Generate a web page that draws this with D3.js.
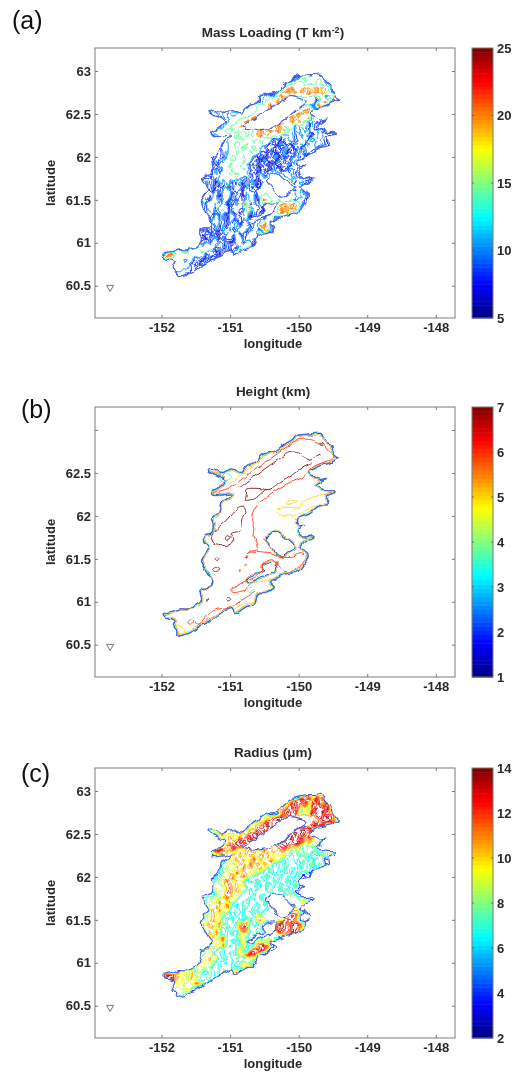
<!DOCTYPE html>
<html lang="en">

<head>
    <meta charset="UTF-8" />
    <title>Plume retrieval maps</title>
    <script src="https://d3js.org/d3.v7.min.js"></script>
    <style>
        body {
            margin: 0;
            background: #fff;
        }

        svg {
            display: block;
            filter: blur(0.35px);
        }

        text {
            font-family: "Liberation Sans", Arial, sans-serif;
            fill: #2a2a2a;
        }

        .tick-label {
            font-size: 13px;
            font-weight: bold;
        }

        .axis-label {
            font-size: 13px;
            font-weight: bold;
        }

        .panel-title {
            font-size: 13.5px;
            font-weight: bold;
        }

        .panel-letter {
            font-size: 25px;
            fill: #111;
        }
    </style>
</head>

<body>
    <svg width="513" height="1072">
        <defs>
            <!-- roughens the drawn contours, the map is a resampled retrieval -->
            <filter id="rough" filterUnits="userSpaceOnUse" x="0" y="0" width="513" height="1072">
                <feTurbulence type="fractalNoise" baseFrequency="0.16" numOctaves="1" seed="4" result="n" />
                <feDisplacementMap in="SourceGraphic" in2="n" scale="7" xChannelSelector="R" yChannelSelector="G" />
                <feGaussianBlur stdDeviation="0.42" />
            </filter>
            <filter id="roughSoft" filterUnits="userSpaceOnUse" x="0" y="0" width="513" height="1072">
                <feTurbulence type="fractalNoise" baseFrequency="0.14" numOctaves="1" seed="9" result="n" />
                <feDisplacementMap in="SourceGraphic" in2="n" scale="4.5" xChannelSelector="R" yChannelSelector="G" />
                <feGaussianBlur stdDeviation="0.3" />
            </filter>
        </defs>
    </svg>
    <script>
        // axes
        const lonTicks = [-152, -151, -150, -149, -148];
        const latTicks = [60.5, 61, 61.5, 62, 62.5, 63];
        const latLabelsHeight = [60.5, 61, 61.5, 62, 62.5];
        const massTicks = [5, 10, 15, 20, 25];
        const heightTicks = [1, 2, 3, 4, 5, 6, 7];
        const radiusTicks = [2, 4, 6, 8, 10, 12, 14];
        const stationLonLat = [-152.75, 60.48];

        // plume edge, lon/lat
        const plumeEdge = [[-150.06, 62.93], [-149.94, 62.95], [-149.79, 62.96], [-149.67, 62.96], [-149.64, 62.91], [-149.59, 62.86], [-149.52, 62.83], [-149.50, 62.76], [-149.47, 62.70], [-149.42, 62.67], [-149.50, 62.63], [-149.59, 62.60], [-149.69, 62.58], [-149.76, 62.55], [-149.84, 62.51], [-149.69, 62.43], [-149.59, 62.44], [-149.67, 62.39], [-149.74, 62.35], [-149.59, 62.30], [-149.47, 62.29], [-149.47, 62.27], [-149.59, 62.23], [-149.55, 62.14], [-149.69, 62.11], [-149.84, 62.02], [-150.01, 61.96], [-149.98, 61.89], [-149.91, 61.89], [-150.01, 61.83], [-149.94, 61.76], [-149.79, 61.77], [-149.76, 61.74], [-149.89, 61.70], [-149.96, 61.63], [-149.86, 61.56], [-149.89, 61.46], [-150.01, 61.35], [-150.18, 61.32], [-150.32, 61.27], [-150.42, 61.23], [-150.35, 61.17], [-150.45, 61.11], [-150.59, 61.09], [-150.64, 60.97], [-150.76, 60.94], [-150.93, 60.86], [-151.00, 60.92], [-151.10, 60.88], [-151.25, 60.80], [-151.42, 60.72], [-151.54, 60.66], [-151.68, 60.61], [-151.78, 60.60], [-151.78, 60.66], [-151.83, 60.72], [-151.81, 60.78], [-151.95, 60.82], [-151.98, 60.86], [-151.85, 60.89], [-151.73, 60.92], [-151.61, 60.92], [-151.47, 60.97], [-151.42, 61.03], [-151.44, 61.15], [-151.32, 61.17], [-151.27, 61.23], [-151.33, 61.32], [-151.42, 61.46], [-151.37, 61.56], [-151.32, 61.63], [-151.39, 61.71], [-151.37, 61.78], [-151.27, 61.81], [-151.25, 61.89], [-151.27, 61.98], [-151.17, 62.04], [-151.13, 62.16], [-151.05, 62.20], [-150.98, 62.25], [-151.13, 62.24], [-151.25, 62.24], [-151.27, 62.29], [-151.17, 62.33], [-151.08, 62.41], [-151.19, 62.47], [-151.25, 62.49], [-151.32, 62.53], [-151.31, 62.55], [-151.22, 62.55], [-151.13, 62.51], [-151.05, 62.53], [-150.96, 62.55], [-150.83, 62.51], [-150.76, 62.59], [-150.66, 62.62], [-150.59, 62.66], [-150.52, 62.72], [-150.42, 62.74], [-150.32, 62.76], [-150.20, 62.84], [-150.08, 62.90]];
        const gapUpper = [[-150.81, 62.35], [-150.62, 62.45], [-150.37, 62.59], [-150.13, 62.70], [-149.98, 62.68], [-149.89, 62.64], [-150.03, 62.55], [-150.18, 62.45], [-150.32, 62.37], [-150.52, 62.32], [-150.74, 62.33]];
        const gapMiddle = [[-150.47, 61.73], [-150.40, 61.79], [-150.30, 61.80], [-150.23, 61.75], [-150.13, 61.71], [-150.06, 61.63], [-150.15, 61.58], [-150.25, 61.53], [-150.35, 61.60], [-150.42, 61.67]];
        const gapLower = [[-150.51, 61.43], [-150.42, 61.46], [-150.32, 61.46], [-150.35, 61.38], [-150.40, 61.33], [-150.49, 61.31], [-150.59, 61.28], [-150.72, 61.23], [-150.74, 61.26], [-150.59, 61.32], [-150.49, 61.36], [-150.53, 61.40]];

        // height contours (km), open lines then closed loops
        const heightLines = [
            [6, [[-151.25, 62.27], [-151.00, 62.33], [-150.76, 62.47], [-150.42, 62.66], [-150.18, 62.80], [-150.03, 62.88], [-149.84, 62.89], [-149.67, 62.84], [-149.55, 62.74], [-149.49, 62.68], [-149.62, 62.63], [-149.79, 62.57], [-149.94, 62.45], [-150.18, 62.37], [-150.42, 62.25], [-150.64, 62.08], [-150.67, 61.96], [-150.64, 61.85], [-150.65, 61.77], [-150.59, 61.65], [-150.59, 61.61], [-150.74, 61.58], [-150.78, 61.53]]],
            [6, [[-150.74, 61.58], [-150.42, 61.56], [-150.23, 61.52], [-150.08, 61.52], [-149.98, 61.56], [-149.91, 61.54], [-149.94, 61.46], [-150.08, 61.36], [-150.23, 61.36], [-150.30, 61.42], [-150.37, 61.50], [-150.52, 61.45], [-150.54, 61.34], [-150.79, 61.23], [-150.93, 61.17], [-150.99, 61.15], [-150.96, 61.11], [-150.81, 61.13], [-150.71, 61.21]]],
            [6, [[-150.64, 61.11], [-150.81, 61.03], [-151.00, 60.94], [-151.25, 60.90], [-151.37, 60.80], [-151.44, 60.74], [-151.51, 60.77]]],
            [7, [[-150.86, 62.33], [-150.66, 62.45], [-150.42, 62.59], [-150.25, 62.68], [-150.13, 62.74], [-149.98, 62.73], [-149.86, 62.65], [-149.76, 62.68], [-149.68, 62.71]]],
            [7, [[-150.78, 62.18], [-150.76, 62.25], [-150.75, 62.31], [-150.59, 62.32], [-150.42, 62.31], [-150.28, 62.39], [-150.08, 62.49], [-149.94, 62.57], [-149.81, 62.62]]],
            [7, [[-150.78, 62.18], [-150.64, 62.20], [-150.54, 62.27], [-150.47, 62.31]]],
            [5, [[-150.32, 62.08], [-150.18, 62.10], [-149.98, 62.10], [-149.91, 62.18], [-149.74, 62.23], [-149.62, 62.25]]],
            [5, [[-150.32, 62.05], [-150.25, 62.01], [-150.06, 62.01], [-149.89, 62.06], [-149.74, 62.14]]],
            [5, [[-151.00, 62.39], [-150.81, 62.49], [-150.62, 62.62], [-150.52, 62.67]]],
            [5, [[-150.69, 61.23], [-150.57, 61.235], [-150.45, 61.25]]],
            [5, [[-150.96, 60.90], [-150.81, 60.975], [-150.64, 60.99]]]
        ];
        const heightLoops = [
            [7, [[-150.81, 62.11], [-150.77, 62.04], [-150.83, 61.96], [-150.86, 61.83], [-151.00, 61.79], [-150.96, 61.73], [-151.00, 61.67], [-151.22, 61.67], [-151.27, 61.75], [-151.22, 61.83], [-151.08, 61.93], [-151.00, 62.00], [-150.88, 62.10]]],
            [7, [[-151.07, 61.74], [-151.04, 61.77], [-151.00, 61.74], [-151.04, 61.71]]],
            [7, [[-151.22, 61.49], [-151.19, 61.51], [-151.16, 61.49], [-151.19, 61.47]]],
            [7, [[-151.26, 61.38], [-151.21, 61.41], [-151.16, 61.38], [-151.21, 61.35]]],
            [7, [[-150.78, 61.53], [-150.76, 61.54], [-150.74, 61.53], [-150.76, 61.52]]],
            [7, [[-151.06, 61.03], [-151.03, 61.05], [-150.99, 61.03], [-151.03, 61.01]]],
            [7, [[-149.69, 62.83], [-149.67, 62.84], [-149.65, 62.83], [-149.67, 62.82]]],
            [6, [[-150.78, 61.43], [-150.77, 61.44], [-150.76, 61.43], [-150.77, 61.42]]],
            [6, [[-150.87, 61.36], [-150.86, 61.37], [-150.85, 61.36], [-150.86, 61.35]]],
            [7, [[-151.345, 61.02], [-151.335, 61.03], [-151.325, 61.02], [-151.335, 61.01]]],
            [6, [[-151.62, 60.77], [-151.58, 60.80], [-151.53, 60.78], [-151.56, 60.74], [-151.61, 60.75]]],
            [5, [[-150.18, 62.15], [-150.08, 62.18], [-150.01, 62.16], [-150.08, 62.13]]],
            [5, [[-151.78, 60.73], [-151.68, 60.69], [-151.66, 60.64], [-151.73, 60.64]]],
            [3.6, [[-151.15, 62.45], [-151.08, 62.49], [-150.99, 62.46], [-151.05, 62.41], [-151.13, 62.41]]],
            [3.6, [[-150.76, 61.14], [-150.71, 61.17], [-150.65, 61.14], [-150.71, 61.11]]]
        ];

        // gridded retrievals: one char per cell (base 36), cells 0.05 deg, first row at 62.95N
        const gridLon0 = -152;
        const gridLat0 = 62.95;
        const gridStep = 0.05;
        const gridCols = 53;
        const gridStart = [40, 37, 35, 33, 32, 28, 27, 25, 13, 14, 15, 17, 16, 13, 14, 18, 16, 16, 15, 15, 14, 14, 14, 13, 11, 11, 12, 12, 11, 11, 10, 11, 11, 12, 13, 13, 10, 10, 10, 10, 8, 3, 0, 1, 2, 2, 3, 3];
        const massRows = [
            "59efedc95",
            "56cdefedefdb5",
            "5adefgfedefgec85",
            "58cdjljgljkjljkjd975",
            "57cjkljljkjljljkjd85",
            "5a8cdfjlkjheeeeee9cj8cl95",
            "57adfgjlkgeeeeeeee6bjlj7a5",
            "5aefghjlgeeeeeeeeee8jlj75",
            "5abbbaabbcaabcdeghjlgeeeeeeejlkh85",
            "5aabaab9acbcefhjlkheeeeeejlkjh85",
            "5abbabcdefhjlklheeeeeejlkjhjk9a85",
            "58bcdfhjljheeeeeejlkjlgkjd8b9a75",
            "57acehjljgeeeeeeejljegh8d9c8a75",
            "59bcdefgeefefefjljkljljkea8c9b8a9c8a7b5",
            "58acedeefedfefjljkhfea9bc8ab9c8acb9a75",
            "59cdefedefefdcb8a6b9c7a9b8cab975",
            "57a9defeefdedfeb7a6b8a6c9b8c9bca85",
            "58a9cefefedfeb9685a6b7a6c8b9ab75",
            "57a8bdefedefec7a5b6a7c5a8c7b975",
            "59a7cefedfeda6b5a7c5b8a7ca75",
            "58b8adefedfeb7a5c6a5b7a6bb75",
            "5a7cbefdefec6a5b7a5c6a7b8a85",
            "58b7cdefedfea7b6a5c7a5b8c975",
            "5a8b9defefedb8a6c7bacbba9c975",
            "57a8b9cbdeeda8c7a6bcbbbbbbbac9aba75",
            "58b7a6c9b7a8c6a7c5abbbbbbbbc8ac75",
            "5a7b6a8c6b9a6c7a5bbbbbbbbd9b975",
            "58a6c7dbe7a6b9a7cbbbbbbbbbc8ab75",
            "57a9bd6ce8b7a6c9b5cihbbbbbbbd9bb75",
            "59b6de7ce6b8a7c9b6dljfcebbbd8cb75",
            "57b8ed9ae5c7b9le8a7eedbbjlkjlkjd85",
            "5a7de8bce6b9a7jl9a6ebbbbjljlkd75",
            "58b9e7bd6c8a6ce8b7a5bbbgljld985",
            "59a7e8c5bd7a9e6b8a6ebbbbb5",
            "58be7a6c8b5ea7b9bbbd5",
            "5a7d8b6a9c7ed7a9jlc85",
            "57a8b7a6c9b7aed6b9a6jl85",
            "5b6a8c5a7b9ae8c6a9bja5",
            "58a6b7c5b8a6dc7a9b75",
            "5a7b8eda7b6aec8bd85",
            "57aedeed7a5b8a6cefg5",
            "5adefedeefe9a6b7a5bbh5",
            "5jlkebcdeedca6b8a6c7bbbb5",
            "5bcccbabb7a6b8a5",
            "5bbbcbb7a6b75",
            "5abbbba875",
            "5aaaaa85",
            "58a85"
        ];
        const radiusRows = [
            "28ac9ba82",
            "27acebdaebca2",
            "279cecbd8dbeadb72",
            "26abdcec8a7cedceb72",
            "259bdecd97a8ecdecb72",
            "28a9bcdebdcbbbbbbbdcedc92",
            "27a9bcdecdbbbbbbbbbcedec82",
            "28abcdecdbbbbbbbbbbdece72",
            "2897a8b8a98a9bacdebdbbbbbbbdedec72",
            "28a7b9a8a8babdecdebbbbbbdedecb72",
            "28a9aba9cbdecdbbbbbbbbdedcebdb972",
            "289bcdedcbbbbbbbbdeedcdec9a89872",
            "27abdecdbbbbbbbbabcdecb8a787972",
            "28bdecb9a8a9bab9ac9abab9a87978769687972",
            "27a8ba9bab9aba9bab9a9a8767879687697872",
            "28a9bab9ac9b9ac9a86757685868772",
            "2789a8aba9cab9ba86758657685796872",
            "26879ab9cab9ab96857685768657685872",
            "27689a9caba9a85758675867586972",
            "278a9bc9acb8657685768576872",
            "2689aca9ba85768576586758672",
            "2788abcab9a75867586758576872",
            "27988bcab98675865786578672",
            "27689abc9a865785675867587972",
            "27689a8ac9a9758675867588888887972",
            "2798a7ca9b86578657586888888888a9a72",
            "279aba9c86758657865788888888889b972",
            "27ab9ca8657685786578888899abb72",
            "268aba97586758657a88888889adc72",
            "279ab9a5867586978ab988888ddcb72",
            "26a9ba8c97568bcb58678588cedbedd972",
            "279ab9a58678cdc65786888dedcedb72",
            "28ab9c8576858a9658768888dcbedc972",
            "279ba8c7658a975865998888882",
            "27a98a75867a8569888c2",
            "268a9c57586a679bdec72",
            "2689a98576568a769cdec72",
            "2789a85675876a9ced82",
            "279ab9a586578768a972",
            "28a9a85767586798722",
            "2789a98567565768abd2",
            "2ab9a8a798587678679c2",
            "2cedca9a8b986787679 8bcb2".replace(" ", ""),
            "2deb9a98a87678792",
            "289a989acb972",
            "28989a9772",
            "2788772",
            "27872"
        ];
        const massLevels = [6.5, 8.5, 10.5, 14.5, 19.5, 20.5];
        const radiusLevels = [3.5, 6.5, 7.5, 8.5, 9.5, 10.5, 11.5, 12.5, 13.5];
        const edgeLevelsHeight = [6, 4.6, 3, 1.4];

        const panelConfigs = [
            { letter: "(a)", title: ["Mass Loading (T km", "-2", ")"], top: 48, letterX: 12, letterY: 29, labels: latTicks, cTicks: massTicks, rows: massRows, levels: massLevels },
            { letter: "(b)", title: ["Height (km)"], top: 407, letterX: 21, letterY: 418, labels: latLabelsHeight, cTicks: heightTicks },
            { letter: "(c)", title: ["Radius (", "\u03bc", "m)"], top: 768, letterX: 21, letterY: 782, labels: latTicks, cTicks: radiusTicks, rows: radiusRows, levels: radiusLevels }
        ];

        const svg = d3.select("svg");
        const plotLeft = 95, plotRight = 455, plotHeight = 270;
        const barLeft = 472, barWidth = 21;
        const axisGray = "#7a7a7a";
        const jetStops = ["#00007f", "#0000ff", "#00ffff", "#ffff00", "#ff0000", "#7f0000"];
        const jet = d3.scaleLinear().domain([0, 0.125, 0.375, 0.625, 0.875, 1]).range(jetStops).clamp(true);
        const smoothClosed = d3.line().curve(d3.curveCatmullRomClosed.alpha(0.5));
        const smoothOpen = d3.line().curve(d3.curveCatmullRom.alpha(0.5));

        function gridValues(rows, low) {
            const values = new Array(gridCols * rows.length).fill(low);
            rows.forEach((row, r) => {
                row.split("").forEach((c, i) => {
                    const col = gridStart[r] + i;
                    if (col < gridCols) values[r * gridCols + col] = parseInt(c, 36);
                });
            });
            return values;
        }

        panelConfigs.forEach((p, idx) => {
            const x = d3.scaleLinear().domain([-152.97, -147.72]).range([plotLeft, plotRight]);
            const y = d3.scaleLinear().domain([60.124, 63.268]).range([p.top + plotHeight, p.top]);
            const g = svg.append("g");
            const toPx = (pts) => pts.map((d) => [x(d[0]), y(d[1])]);

            // clip everything to the plume, gaps cut out with evenodd
            const rings = [plumeEdge, gapUpper, gapMiddle, gapLower];
            const ringsPath = rings.map((r) => smoothClosed(toPx(r))).join("");
            const clipId = "plume-" + idx;
            g.append("clipPath").attr("id", clipId)
                .append("path").attr("d", ringsPath).attr("clip-rule", "evenodd");

            const marks = g.append("g").attr("filter", p.rows ? "url(#rough)" : "url(#roughSoft)")
                .attr("opacity", 0.85);
            const colorOf = (v) => jet((v - p.cTicks[0]) / (p.cTicks[p.cTicks.length - 1] - p.cTicks[0]));

            if (p.rows) {
                // contour the typed grid
                const values = gridValues(p.rows, p.cTicks[0]);
                const contours = d3.contours().size([gridCols, p.rows.length]).thresholds(p.levels)(values);
                const gridProj = d3.geoTransform({
                    point: function (cx, cy) {
                        this.stream.point(
                            x(gridLon0 + (cx - 0.5) * gridStep),
                            y(gridLat0 - (cy - 0.5) * gridStep)
                        );
                    }
                });
                const path = d3.geoPath(gridProj);
                marks.append("g").attr("clip-path", "url(#" + clipId + ")")
                    .selectAll("path").data(contours).enter().append("path")
                    .attr("d", path)
                    .attr("fill", "none")
                    .attr("stroke", (d) => colorOf(d.value))
                    .attr("stroke-width", 1.1);
                marks.append("path").attr("d", ringsPath).attr("fill", "none")
                    .attr("stroke", "#1c3fd8").attr("stroke-width", 1.1);
            } else {
                // height panel: stack of contours squeezed along the edge
                const edge = marks.append("g").attr("clip-path", "url(#" + clipId + ")");
                const edgePath = smoothClosed(toPx(plumeEdge)) + smoothClosed(toPx(gapMiddle)) + smoothClosed(toPx(gapLower));
                edgeLevelsHeight.forEach((lev, i) => {
                    edge.append("path").attr("d", edgePath)
                        .attr("fill", "none")
                        .attr("stroke", colorOf(lev))
                        .attr("stroke-width", 4 - i * 0.9);
                    if (i === 0) {
                        edge.append("path").attr("d", edgePath)
                            .attr("fill", "none").attr("stroke", "#fff").attr("stroke-width", 3.1);
                    }
                });
                marks.append("path").attr("d", smoothClosed(toPx(plumeEdge))).attr("fill", "none")
                    .attr("stroke", "#2a50e0").attr("stroke-width", 0.8);
                heightLines.forEach((d) => {
                    marks.append("path").attr("d", smoothOpen(toPx(d[1]))).attr("fill", "none")
                        .attr("stroke", colorOf(d[0])).attr("stroke-width", 1);
                });
                heightLoops.forEach((d) => {
                    marks.append("path").attr("d", smoothClosed(toPx(d[1]))).attr("fill", "none")
                        .attr("stroke", colorOf(d[0])).attr("stroke-width", 1);
                });
            }

            // station marker
            g.append("path")
                .attr("d", d3.symbol().type(d3.symbolTriangle).size(22)())
                .attr("transform", "translate(" + x(stationLonLat[0]) + "," + y(stationLonLat[1]) + ") rotate(180)")
                .attr("fill", "#fff").attr("stroke", "#666").attr("stroke-width", 0.9);

            // plot frame, ticks on all sides; every panel ticks 63N, only some label it
            g.append("rect").attr("x", plotLeft).attr("y", p.top).attr("width", plotRight - plotLeft).attr("height", plotHeight)
                .attr("fill", "none").attr("stroke", axisGray).attr("stroke-width", 1);
            const bottomAxis = d3.axisBottom(x).tickValues(lonTicks).tickFormat((d) => String(d)).tickSize(-3).tickPadding(5);
            const topAxis = d3.axisTop(x).tickValues(lonTicks).tickFormat("").tickSize(-3);
            const leftAxis = d3.axisLeft(y).tickValues(latTicks).tickFormat((d) => (p.labels.includes(d) ? d : "")).tickSize(-3).tickPadding(4);
            const rightAxis = d3.axisRight(y).tickValues(latTicks).tickFormat("").tickSize(-3);
            [
                [bottomAxis, 0, p.top + plotHeight],
                [topAxis, 0, p.top],
                [leftAxis, plotLeft, 0],
                [rightAxis, plotRight, 0]
            ].forEach((a) => {
                const ag = g.append("g").attr("transform", "translate(" + a[1] + "," + a[2] + ")").call(a[0]);
                ag.select(".domain").remove();
                ag.selectAll("line").attr("stroke", axisGray);
                ag.selectAll("text").attr("class", "tick-label").attr("fill", null);
            });

            // labels
            g.append("text").attr("class", "axis-label").attr("text-anchor", "middle")
                .attr("x", 273).attr("y", p.top + plotHeight + 30).text("longitude");
            g.append("text").attr("class", "axis-label").attr("text-anchor", "middle")
                .attr("transform", "translate(55," + (p.top + plotHeight / 2) + ") rotate(-90)").text("latitude");
            const title = g.append("text").attr("class", "panel-title").attr("text-anchor", "middle")
                .attr("x", 273).attr("y", p.top - 11);
            title.append("tspan").text(p.title[0]);
            if (p.title.length > 1) {
                if (p.title[1] === "-2") {
                    title.append("tspan").attr("dy", -4).attr("font-size", 9).text(p.title[1]);
                    title.append("tspan").attr("dy", 4).text(p.title[2]);
                } else {
                    title.append("tspan").text(p.title[1]);
                    title.append("tspan").text(p.title[2]);
                }
            }
            g.append("text").attr("class", "panel-letter").attr("x", p.letterX).attr("y", p.letterY).text(p.letter);

            // colour bar
            const cMin = p.cTicks[0], cMax = p.cTicks[p.cTicks.length - 1];
            const c = d3.scaleLinear().domain([cMin, cMax]).range([p.top + plotHeight, p.top]);
            const steps = d3.range(64);
            const stepH = plotHeight / 64;
            g.append("g").selectAll("rect").data(steps).enter().append("rect")
                .attr("x", barLeft).attr("width", barWidth)
                .attr("y", (i) => c(cMin + (i + 1) / 64 * (cMax - cMin)))
                .attr("height", stepH + 0.5)
                .attr("fill", (i) => jet((i + 0.5) / 64));
            g.append("rect").attr("x", barLeft).attr("y", p.top).attr("width", barWidth).attr("height", plotHeight)
                .attr("fill", "none").attr("stroke", axisGray).attr("stroke-width", 1);
            const barAxis = d3.axisRight(c).tickValues(p.cTicks).tickFormat((d) => d).tickSize(0).tickPadding(4);
            const bg = g.append("g").attr("transform", "translate(" + (barLeft + barWidth) + ",0)").call(barAxis);
            bg.select(".domain").remove();
            bg.selectAll("text").attr("class", "tick-label").attr("fill", null);
            g.append("g").selectAll("path").data(p.cTicks.slice(1, -1)).enter().append("path")
                .attr("d", (d) => "M" + barLeft + "," + c(d) + "h2M" + (barLeft + barWidth) + "," + c(d) + "h-2")
                .attr("stroke", "#555").attr("stroke-width", 0.8);
        });
    </script>
</body>

</html>
